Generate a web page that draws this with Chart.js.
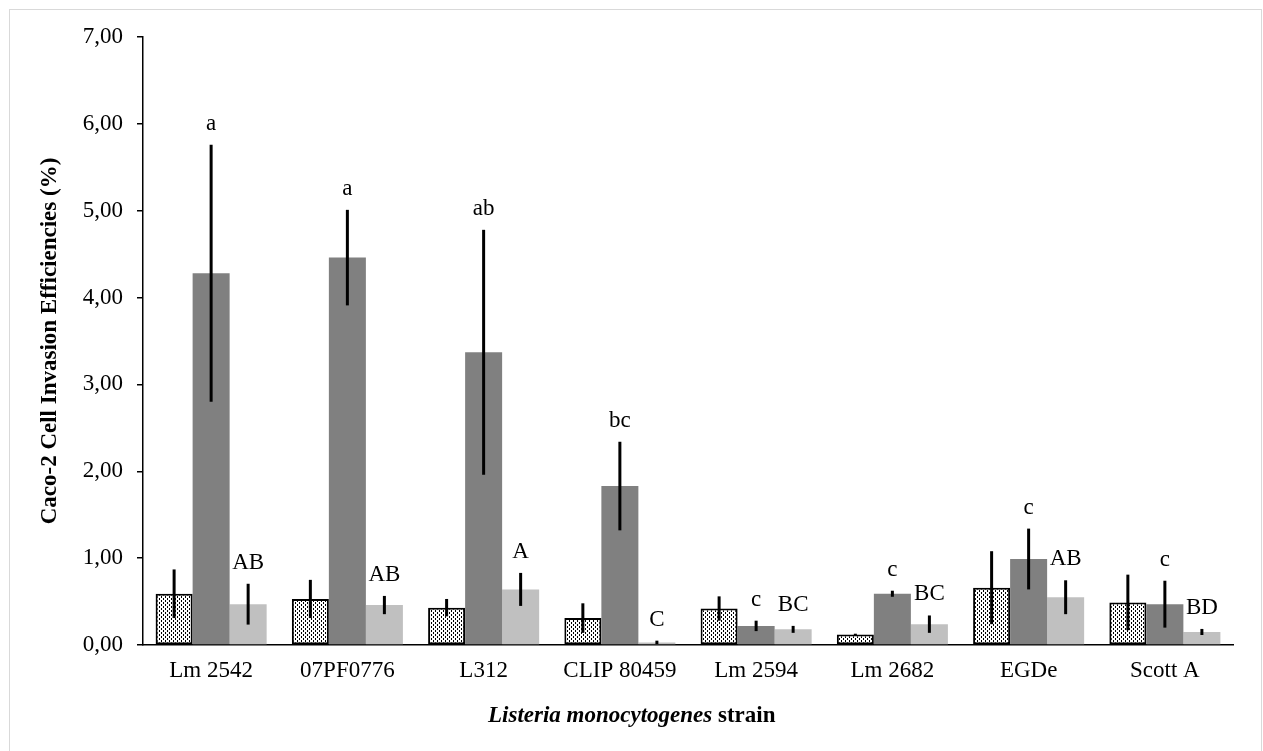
<!DOCTYPE html>
<html>
<head>
<meta charset="utf-8">
<script src="https://cdn.jsdelivr.net/npm/chart.js@4.4.1/dist/chart.umd.min.js"></script>
<style>
  html, body { margin: 0; padding: 0; background: #ffffff; }
  #wrap { position: relative; width: 1263px; height: 751px; }
  canvas { display: block; }
</style>
</head>
<body>
<div id="wrap"><canvas id="chart" width="1263" height="751"></canvas></div>
<script>
// Strains on the category axis
const strains = ['Lm 2542', '07PF0776', 'L312', 'CLIP 80459', 'Lm 2594', 'Lm 2682', 'EGDe', 'Scott A'];

// Invasion efficiency (%) and standard deviation, one pair per condition
const dottedMean = [0.59, 0.53, 0.43, 0.31, 0.42, 0.12, 0.66, 0.49];
const dottedSd   = [0.28, 0.22, 0.10, 0.17, 0.14, 0.01, 0.42, 0.32];
const darkMean   = [4.28, 4.46, 3.37, 1.83, 0.22, 0.59, 0.99, 0.47];
const darkSd     = [1.48, 0.55, 1.41, 0.51, 0.06, 0.035, 0.35, 0.27];
const lightMean  = [0.47, 0.46, 0.64, 0.03, 0.18, 0.24, 0.55, 0.15];
const lightSd    = [0.235, 0.105, 0.19, 0.02, 0.04, 0.10, 0.195, 0.035];

// Significance letters above the dark and light bars
const darkLetters  = ['a', 'a', 'ab', 'bc', 'c', 'c', 'c', 'c'];
const lightLetters = ['AB', 'AB', 'A', 'C', 'BC', 'BC', 'AB', 'BD'];

// Value axis ticks
const yTicks = [0, 1, 2, 3, 4, 5, 6, 7];

const SERIF = '"Liberation Serif", "Times New Roman", serif';
const canvas = document.getElementById('chart');
const ctx0 = canvas.getContext('2d');

// Stippled fill: white with short black dashes in staggered columns
function stipple() {
  const t = document.createElement('canvas');
  t.width = 4; t.height = 4;
  const g = t.getContext('2d');
  g.fillStyle = '#ffffff'; g.fillRect(0, 0, 4, 4);
  g.fillStyle = '#000000';
  g.fillRect(1, 0, 1, 2);
  g.fillRect(3, 2, 1, 2);
  return ctx0.createPattern(t, 'repeat');
}

const fmt = v => v.toFixed(2).replace('.', ',');

const overlay = {
  id: 'overlay',
  beforeDraw(chart) {
    const c = chart.ctx;
    c.save();
    c.fillStyle = '#ffffff';
    c.fillRect(0, 0, chart.width, chart.height);
    c.strokeStyle = '#d9d9d9';
    c.lineWidth = 1;
    c.strokeRect(9.5, 9.5, 1252, 770);
    c.restore();
  },
  afterDatasetsDraw(chart) {
    const c = chart.ctx;
    const y = chart.scales.y;
    const groups = [
      [0, dottedMean, dottedSd, null],
      [1, darkMean, darkSd, darkLetters],
      [2, lightMean, lightSd, lightLetters]
    ];
    c.save();
    groups.forEach(([di, means, sds, letters]) => {
      const meta = chart.getDatasetMeta(di);
      meta.data.forEach((bar, i) => {
        const top = y.getPixelForValue(means[i] + sds[i]);
        const bot = y.getPixelForValue(Math.max(0, means[i] - sds[i]));
        c.strokeStyle = '#000000';
        c.lineWidth = 3;
        c.beginPath();
        c.moveTo(bar.x, top);
        c.lineTo(bar.x, bot);
        c.stroke();
        if (letters) {
          c.fillStyle = '#000000';
          c.font = '23px ' + SERIF;
          c.textAlign = 'center';
          c.textBaseline = 'alphabetic';
          c.fillText(letters[i], bar.x, top - 15);
        }
      });
    });
    c.restore();
  },
  afterDraw(chart) {
    const c = chart.ctx;
    const area = chart.chartArea;
    c.save();
    c.fillStyle = '#000000';
    // value axis title
    c.font = 'bold 23px ' + SERIF;
    c.textAlign = 'center';
    c.textBaseline = 'middle';
    c.translate(50, (area.top + area.bottom) / 2);
    c.rotate(-Math.PI / 2);
    c.fillText('Caco-2 Cell Invasion Efficiencies (%)', 0, 0);
    c.restore();

    // category axis title with italic species name
    c.save();
    c.fillStyle = '#000000';
    c.textBaseline = 'middle';
    c.textAlign = 'left';
    const parts = [['Listeria monocytogenes', 'italic bold 23px ' + SERIF], [' strain', 'bold 23px ' + SERIF]];
    let x = 488;
    parts.forEach(p => { c.font = p[1]; c.fillText(p[0], x, 716); x += c.measureText(p[0]).width; });
    c.restore();
  }
};

new Chart(canvas, {
  type: 'bar',
  data: {
    labels: strains,
    datasets: [
      { label: 'dotted', data: dottedMean, backgroundColor: stipple(), borderColor: '#000000', borderWidth: 2, borderSkipped: false },
      { label: 'dark', data: darkMean, backgroundColor: '#808080', borderWidth: 0 },
      { label: 'light', data: lightMean, backgroundColor: '#c0c0c0', borderWidth: 0 }
    ]
  },
  options: {
    responsive: false,
    animation: false,
    devicePixelRatio: 1,
    layout: { padding: { left: 0, right: 30, top: 37, bottom: 0 } },
    datasets: { bar: { categoryPercentage: 0.815, barPercentage: 1.0 } },
    plugins: { legend: { display: false }, tooltip: { enabled: false } },
    scales: {
      x: {
        grid: { display: false, drawTicks: false },
        border: { display: true, color: '#000000', width: 1.5 },
        ticks: { color: '#000000', font: { family: SERIF, size: 23 }, padding: 12, maxRotation: 0, autoSkip: false },
        afterFit(scale) { scale.height = 106; }
      },
      y: {
        min: 0,
        max: 7,
        afterBuildTicks(scale) { scale.ticks = yTicks.map(v => ({ value: v })); },
        grid: { display: true, drawOnChartArea: false, drawTicks: true, tickLength: 6, color: '#000000', lineWidth: 1.5 },
        border: { display: true, color: '#000000', width: 1.5 },
        ticks: { color: '#000000', font: { family: SERIF, size: 23 }, padding: 14, callback: v => fmt(v) },
        afterFit(scale) { scale.width = 143; }
      }
    }
  },
  plugins: [overlay]
});
</script>
</body>
</html>
